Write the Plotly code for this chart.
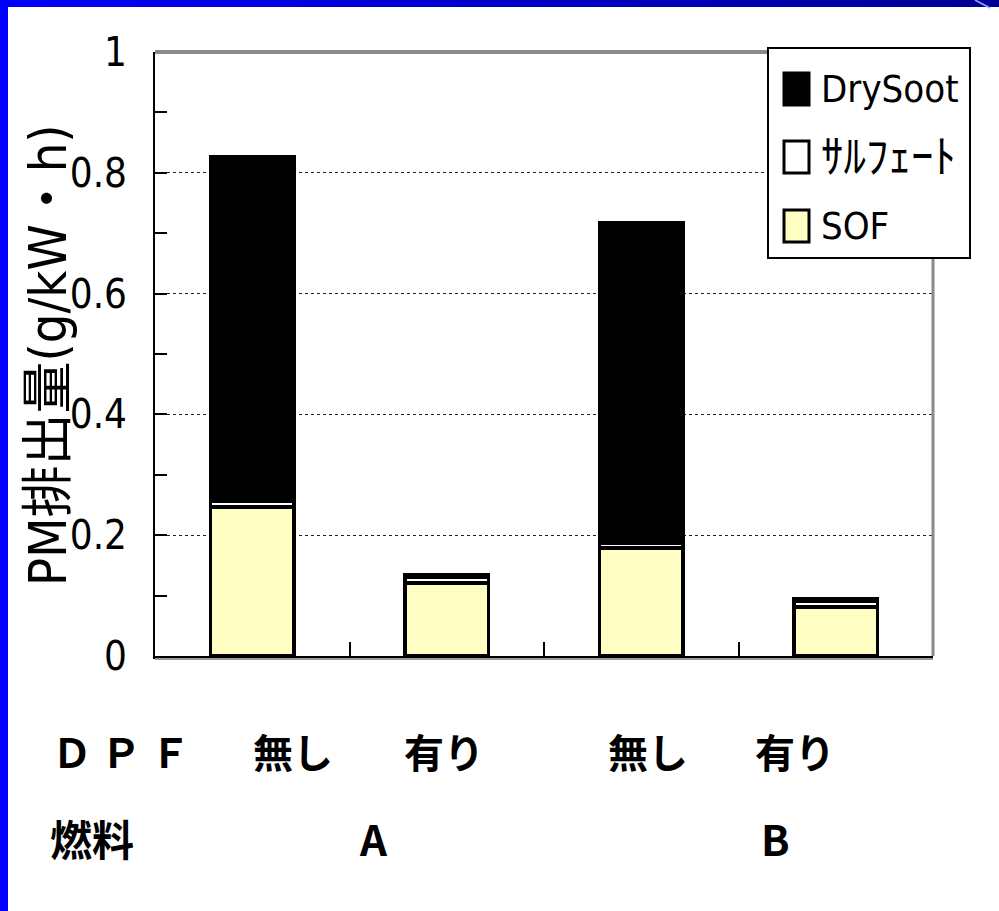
import plotly.graph_objects as go

# ---- data ----
categories = ["A-無し", "A-有り", "B-無し", "B-有り"]
sof = [0.247, 0.121, 0.179, 0.081]
sulfate = [0.009, 0.010, 0.007, 0.010]
drysoot = [0.570, 0.003, 0.531, 0.003]

series_names = ["DrySoot", "ｻﾙﾌｪｰﾄ", "SOF"]
series_colors = ["#000000", "#FFFFFF", "#FFFFC4"]

y_ticks = [0, 0.2, 0.4, 0.6, 0.8, 1]
y_tick_text = ["0", "0.2", "0.4", "0.6", "0.8", "1"]

dpf_row_label = "Ｄ Ｐ Ｆ"
dpf_labels = ["無し", "有り", "無し", "有り"]
fuel_row_label = "燃料"
fuel_labels = ["A", "B"]

# ---- page geometry (pixels) ----
W, H = 999, 911
ML, MR, MT, MB = 155, 66, 52, 255
PW, PH = W - ML - MR, H - MT - MB


def px(x):
    return (x - ML) / PW


def py(y):
    return (H - MB - y) / PH


NARROW = "DejaVu Sans Condensed, Noto Sans CJK JP"
BOLD_JP = "Noto Sans CJK JP"
legend_font_sizes = [38, 45, 38]

fig = go.Figure()
for vals, name, color in zip([sof, sulfate, drysoot],
                             ["SOF", "ｻﾙﾌｪｰﾄ", "DrySoot"],
                             ["#FFFFC4", "#FFFFFF", "#000000"]):
    fig.add_trace(go.Bar(
        x=categories, y=vals, name=name,
        marker=dict(color=color, line=dict(color="black", width=3.5)),
        showlegend=False,
    ))

shapes = []
annotations = []

# plot frame: grey top and right edges, grey shadow under the baseline
shapes.append(dict(type="line", xref="paper", yref="paper", x0=0, x1=1, y0=1, y1=1,
                   line=dict(color="#8a8a8a", width=4)))
shapes.append(dict(type="line", xref="paper", yref="paper", x0=1, x1=1, y0=0, y1=1,
                   line=dict(color="#8a8a8a", width=3)))
shapes.append(dict(type="line", xref="paper", yref="paper", x0=0, x1=1,
                   y0=py(659), y1=py(659), line=dict(color="#9a9a9a", width=2)))

# legend box
shapes.append(dict(type="rect", xref="paper", yref="paper",
                   x0=px(768), x1=px(970), y0=py(258), y1=py(48),
                   fillcolor="white", line=dict(color="black", width=2), layer="above"))
leg_rows = [89, 157, 226]
for name, color, yc, fs in zip(series_names, series_colors, leg_rows, legend_font_sizes):
    shapes.append(dict(type="rect", xref="paper", yref="paper",
                       x0=px(784), x1=px(809), y0=py(yc + 16), y1=py(yc - 16),
                       fillcolor=color, line=dict(color="black", width=3), layer="above"))
    annotations.append(dict(text=name, xref="paper", yref="paper", x=px(819), y=py(yc),
                            xanchor="left", yanchor="middle", showarrow=False,
                            font=dict(family=NARROW, size=fs, color="black")))

# blue slide frame: gradient bar on top, solid bar on the left
n_strips = 60
for i in range(n_strips):
    t = i / (n_strips - 1)
    r, g, b = 0, 0, int(255 - t * 105)
    shapes.append(dict(type="rect", xref="paper", yref="paper",
                       x0=px(i * W / n_strips), x1=px((i + 1) * W / n_strips + 1),
                       y0=py(7), y1=py(0), fillcolor=f"rgb({r},{g},{b})",
                       line=dict(width=0), layer="above"))
shapes.append(dict(type="rect", xref="paper", yref="paper",
                   x0=px(0), x1=px(8), y0=py(H), y1=py(0), fillcolor="#0000FF",
                   line=dict(width=0), layer="above"))
shapes.append(dict(type="line", xref="paper", yref="paper",
                   x0=px(975), x1=px(990), y0=py(0), y1=py(8),
                   line=dict(color="#8fa8ff", width=1.5), layer="above"))

# y axis title
annotations.append(dict(text="PM排出量(g/kW・h)", xref="paper", yref="paper",
                        x=px(48), y=py(355), textangle=-90, showarrow=False,
                        xanchor="center", yanchor="middle",
                        font=dict(family=NARROW, size=52, color="black")))

# category rows under the axis
row1_y, row2_y = 751, 838
annotations.append(dict(text=dpf_row_label, xref="paper", yref="paper", x=px(50), y=py(row1_y),
                        xanchor="left", yanchor="middle", showarrow=False,
                        font=dict(family=BOLD_JP, size=40, color="black", weight="bold")))
for lab, xc in zip(dpf_labels, [293, 444, 648, 795]):
    annotations.append(dict(text=lab, xref="paper", yref="paper", x=px(xc), y=py(row1_y),
                            xanchor="center", yanchor="middle", showarrow=False,
                            font=dict(family=BOLD_JP, size=40, color="black", weight="bold")))
annotations.append(dict(text=fuel_row_label, xref="paper", yref="paper", x=px(48), y=py(row2_y),
                        xanchor="left", yanchor="middle", showarrow=False,
                        font=dict(family=BOLD_JP, size=42, color="black", weight="bold")))
for lab, xc in zip(fuel_labels, [373, 775]):
    annotations.append(dict(text=lab, xref="paper", yref="paper", x=px(xc), y=py(row2_y),
                            xanchor="center", yanchor="middle", showarrow=False,
                            font=dict(family=BOLD_JP, size=42, color="black", weight="bold")))

fig.update_layout(
    width=W, height=H,
    margin=dict(l=ML, r=MR, t=MT, b=MB),
    paper_bgcolor="white", plot_bgcolor="white",
    barmode="stack", bargap=0.57,
    showlegend=False,
    shapes=shapes, annotations=annotations,
    xaxis=dict(
        type="category", showticklabels=False, tickson="boundaries",
        ticks="inside", ticklen=14, tickwidth=2, tickcolor="black",
        showline=True, linecolor="black", linewidth=3, showgrid=False, zeroline=False,
    ),
    yaxis=dict(
        range=[0, 1], tickvals=y_ticks, ticktext=y_tick_text,
        ticks="inside", ticklen=12, tickwidth=2, tickcolor="black",
        minor=dict(dtick=0.1, tick0=0, ticks="inside", ticklen=12, tickwidth=2,
                   tickcolor="black", showgrid=False),
        showline=True, linecolor="black", linewidth=2,
        showgrid=True, gridcolor="#222222", gridwidth=1, griddash="dot",
        zeroline=False, ticklabelstandoff=18,
        tickfont=dict(family=NARROW, size=40, color="black"),
    ),
)

fig.write_html("out.html")
